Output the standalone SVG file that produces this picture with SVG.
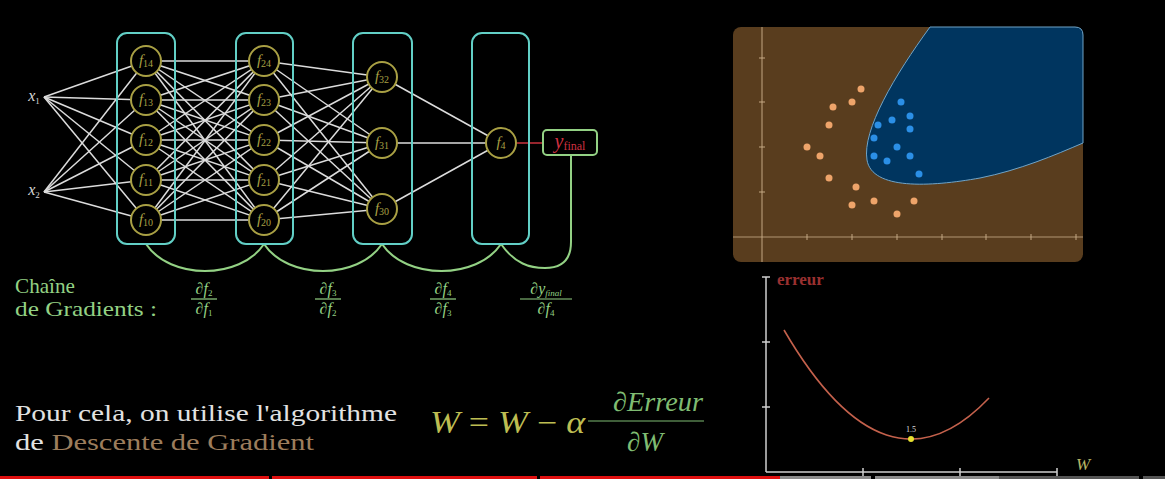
<svg xmlns="http://www.w3.org/2000/svg" width="1165" height="479" viewBox="0 0 1165 479">
<style>
.box{fill:none;stroke:#62cfc6;stroke-width:2}
.ln{stroke:#dcdcdc;stroke-width:1.5}
.node{fill:#000;stroke:#a9a044;stroke-width:2}
.nl{font-family:"Liberation Serif",serif;font-size:15px;fill:#a9a044}
.sub{font-size:10px}
.gr{fill:none;stroke:#93d184;stroke-width:2}
.gt{font-family:"Liberation Serif",serif;fill:#93d184}
.math{font-family:"Liberation Serif",serif;font-style:italic}
.or{fill:#eea46a}
.bl{fill:#2b8fe6}
.ax{stroke:#c9ad88;stroke-width:1.2;opacity:0.8}
.ax2{stroke:#cfcfcf;stroke-width:1.5}
</style>
<rect width="1165" height="479" fill="#000"/>

<g id="connectors">
<g class="ln">
<line x1="44" y1="97" x2="146" y2="61"/><line x1="44" y1="97" x2="146" y2="100"/><line x1="44" y1="97" x2="146" y2="140"/><line x1="44" y1="97" x2="146" y2="180"/><line x1="44" y1="97" x2="146" y2="220"/>
<line x1="44" y1="192" x2="146" y2="61"/><line x1="44" y1="192" x2="146" y2="100"/><line x1="44" y1="192" x2="146" y2="140"/><line x1="44" y1="192" x2="146" y2="180"/><line x1="44" y1="192" x2="146" y2="220"/>
<line x1="146" y1="61" x2="264" y2="61"/><line x1="146" y1="61" x2="264" y2="100"/><line x1="146" y1="61" x2="264" y2="140"/><line x1="146" y1="61" x2="264" y2="180"/><line x1="146" y1="61" x2="264" y2="220"/>
<line x1="146" y1="100" x2="264" y2="61"/><line x1="146" y1="100" x2="264" y2="100"/><line x1="146" y1="100" x2="264" y2="140"/><line x1="146" y1="100" x2="264" y2="180"/><line x1="146" y1="100" x2="264" y2="220"/>
<line x1="146" y1="140" x2="264" y2="61"/><line x1="146" y1="140" x2="264" y2="100"/><line x1="146" y1="140" x2="264" y2="140"/><line x1="146" y1="140" x2="264" y2="180"/><line x1="146" y1="140" x2="264" y2="220"/>
<line x1="146" y1="180" x2="264" y2="61"/><line x1="146" y1="180" x2="264" y2="100"/><line x1="146" y1="180" x2="264" y2="140"/><line x1="146" y1="180" x2="264" y2="180"/><line x1="146" y1="180" x2="264" y2="220"/>
<line x1="146" y1="220" x2="264" y2="61"/><line x1="146" y1="220" x2="264" y2="100"/><line x1="146" y1="220" x2="264" y2="140"/><line x1="146" y1="220" x2="264" y2="180"/><line x1="146" y1="220" x2="264" y2="220"/>
<line x1="264" y1="61" x2="382" y2="77"/><line x1="264" y1="61" x2="382" y2="143"/><line x1="264" y1="61" x2="382" y2="209"/>
<line x1="264" y1="100" x2="382" y2="77"/><line x1="264" y1="100" x2="382" y2="143"/><line x1="264" y1="100" x2="382" y2="209"/>
<line x1="264" y1="140" x2="382" y2="77"/><line x1="264" y1="140" x2="382" y2="143"/><line x1="264" y1="140" x2="382" y2="209"/>
<line x1="264" y1="180" x2="382" y2="77"/><line x1="264" y1="180" x2="382" y2="143"/><line x1="264" y1="180" x2="382" y2="209"/>
<line x1="264" y1="220" x2="382" y2="77"/><line x1="264" y1="220" x2="382" y2="143"/><line x1="264" y1="220" x2="382" y2="209"/>
<line x1="382" y1="77" x2="501" y2="143"/><line x1="382" y1="143" x2="501" y2="143"/><line x1="382" y1="209" x2="501" y2="143"/>
</g>
<line x1="517" y1="143" x2="543" y2="143" stroke="#c8323c" stroke-width="1.5"/>
<path class="gr" d="M146,244 C170,280 240,280 264,244"/>
<path class="gr" d="M264,244 C288,280 358,280 382,244"/>
<path class="gr" d="M382,244 C406,280 477,280 501,244"/>
<path class="gr" d="M501,244 C515,264 530,268 545,268 C563,268 571,258 571,242 L571,155"/>
</g>

<g id="layer1">
<rect class="box" x="117" y="33" width="58" height="211" rx="10"/>
</g>
<g id="layer2">
<rect class="box" x="236" y="33" width="57" height="211" rx="10"/>
</g>
<g id="layer3">
<rect class="box" x="353" y="33" width="59" height="211" rx="10"/>
</g>
<g id="layer4">
<rect class="box" x="472" y="33" width="57" height="211" rx="10"/>
</g>

<g id="x1"><text x="34" y="101" text-anchor="middle" class="math" font-size="16" fill="#d8d8d8">x<tspan font-style="normal" font-size="9" dy="3">1</tspan></text></g>
<g id="x2"><text x="34" y="195" text-anchor="middle" class="math" font-size="16" fill="#d8d8d8">x<tspan font-style="normal" font-size="9" dy="3">2</tspan></text></g>

<g id="f14"><circle class="node" cx="146" cy="61" r="15"/><text class="nl" x="146" y="65" text-anchor="middle"><tspan font-style="italic">f</tspan><tspan class="sub" dy="2">14</tspan></text></g>
<g id="f13"><circle class="node" cx="146" cy="100" r="15"/><text class="nl" x="146" y="104" text-anchor="middle"><tspan font-style="italic">f</tspan><tspan class="sub" dy="2">13</tspan></text></g>
<g id="f12"><circle class="node" cx="146" cy="140" r="15"/><text class="nl" x="146" y="144" text-anchor="middle"><tspan font-style="italic">f</tspan><tspan class="sub" dy="2">12</tspan></text></g>
<g id="f11"><circle class="node" cx="146" cy="180" r="15"/><text class="nl" x="146" y="184" text-anchor="middle"><tspan font-style="italic">f</tspan><tspan class="sub" dy="2">11</tspan></text></g>
<g id="f10"><circle class="node" cx="146" cy="220" r="15"/><text class="nl" x="146" y="224" text-anchor="middle"><tspan font-style="italic">f</tspan><tspan class="sub" dy="2">10</tspan></text></g>

<g id="f24"><circle class="node" cx="264" cy="61" r="15"/><text class="nl" x="264" y="65" text-anchor="middle"><tspan font-style="italic">f</tspan><tspan class="sub" dy="2">24</tspan></text></g>
<g id="f23"><circle class="node" cx="264" cy="100" r="15"/><text class="nl" x="264" y="104" text-anchor="middle"><tspan font-style="italic">f</tspan><tspan class="sub" dy="2">23</tspan></text></g>
<g id="f22"><circle class="node" cx="264" cy="140" r="15"/><text class="nl" x="264" y="144" text-anchor="middle"><tspan font-style="italic">f</tspan><tspan class="sub" dy="2">22</tspan></text></g>
<g id="f21"><circle class="node" cx="264" cy="180" r="15"/><text class="nl" x="264" y="184" text-anchor="middle"><tspan font-style="italic">f</tspan><tspan class="sub" dy="2">21</tspan></text></g>
<g id="f20"><circle class="node" cx="264" cy="220" r="15"/><text class="nl" x="264" y="224" text-anchor="middle"><tspan font-style="italic">f</tspan><tspan class="sub" dy="2">20</tspan></text></g>

<g id="f32"><circle class="node" cx="382" cy="77" r="15"/><text class="nl" x="382" y="81" text-anchor="middle"><tspan font-style="italic">f</tspan><tspan class="sub" dy="2">32</tspan></text></g>
<g id="f31"><circle class="node" cx="382" cy="143" r="15"/><text class="nl" x="382" y="147" text-anchor="middle"><tspan font-style="italic">f</tspan><tspan class="sub" dy="2">31</tspan></text></g>
<g id="f30"><circle class="node" cx="382" cy="209" r="15"/><text class="nl" x="382" y="213" text-anchor="middle"><tspan font-style="italic">f</tspan><tspan class="sub" dy="2">30</tspan></text></g>

<g id="f4"><circle class="node" cx="501" cy="143" r="15"/><text class="nl" x="501" y="147" text-anchor="middle"><tspan font-style="italic">f</tspan><tspan class="sub" dy="2">4</tspan></text></g>

<g id="yfinal">
<rect x="543" y="130" width="54" height="25" rx="4" fill="#000" stroke="#93d184" stroke-width="2"/>
<text x="570" y="148" text-anchor="middle" class="math" font-size="20" fill="#cf3040">y<tspan font-style="normal" font-size="12" dy="2">final</tspan></text>
</g>

<g id="chain-label">
<text class="gt" x="15" y="293" font-size="21" textLength="60" lengthAdjust="spacingAndGlyphs">Chaîne</text>
<text class="gt" x="15" y="316" font-size="21" textLength="142" lengthAdjust="spacingAndGlyphs">de Gradients :</text>
</g>

<g id="fractions" class="gt" font-size="16">
<text x="204" y="294" text-anchor="middle"><tspan>∂</tspan><tspan font-style="italic">f</tspan><tspan font-size="9" dy="2">2</tspan></text>
<line x1="191" y1="299" x2="217" y2="299" stroke="#93d184" stroke-width="1.2"/>
<text x="204" y="314" text-anchor="middle"><tspan>∂</tspan><tspan font-style="italic">f</tspan><tspan font-size="9" dy="2">1</tspan></text>

<text x="328" y="294" text-anchor="middle"><tspan>∂</tspan><tspan font-style="italic">f</tspan><tspan font-size="9" dy="2">3</tspan></text>
<line x1="315" y1="299" x2="341" y2="299" stroke="#93d184" stroke-width="1.2"/>
<text x="328" y="314" text-anchor="middle"><tspan>∂</tspan><tspan font-style="italic">f</tspan><tspan font-size="9" dy="2">2</tspan></text>

<text x="443" y="294" text-anchor="middle"><tspan>∂</tspan><tspan font-style="italic">f</tspan><tspan font-size="9" dy="2">4</tspan></text>
<line x1="430" y1="299" x2="456" y2="299" stroke="#93d184" stroke-width="1.2"/>
<text x="443" y="314" text-anchor="middle"><tspan>∂</tspan><tspan font-style="italic">f</tspan><tspan font-size="9" dy="2">3</tspan></text>

<text x="546" y="294" text-anchor="middle"><tspan>∂</tspan><tspan font-style="italic">y</tspan><tspan font-style="italic" font-size="9" dy="2">final</tspan></text>
<line x1="520" y1="299" x2="572" y2="299" stroke="#93d184" stroke-width="1.2"/>
<text x="546" y="314" text-anchor="middle"><tspan>∂</tspan><tspan font-style="italic">f</tspan><tspan font-size="9" dy="2">4</tspan></text>
</g>

<g id="sentence" font-family="Liberation Serif, serif" font-size="24">
<text x="15" y="421" fill="#e2e2e2" textLength="382" lengthAdjust="spacingAndGlyphs">Pour cela, on utilise l'algorithme</text>
<text x="15" y="450" fill="#e2e2e2" textLength="299" lengthAdjust="spacingAndGlyphs">de <tspan fill="#9c7d5c">Descente de Gradient</tspan></text>
</g>

<g id="formula" font-family="Liberation Serif, serif">
<text x="430" y="433" font-size="31" fill="#bdbd52" textLength="155" lengthAdjust="spacingAndGlyphs"><tspan font-style="italic">W</tspan> = <tspan font-style="italic">W</tspan> − <tspan font-style="italic">α</tspan></text>
<text x="658" y="411" text-anchor="middle" font-size="27" fill="#7fbc72" textLength="90" lengthAdjust="spacingAndGlyphs">∂<tspan font-style="italic">Erreur</tspan></text>
<line x1="588" y1="421" x2="704" y2="421" stroke="#7fbc72" stroke-width="1.2"/>
<text x="645" y="451" text-anchor="middle" font-size="27" fill="#7fbc72">∂<tspan font-style="italic">W</tspan></text>
</g>

<g id="scatter-plot">
<rect x="733" y="27" width="350" height="235" rx="8" fill="#593d1e"/>
<path d="M930,27 C895,75 862,130 867,160 C872,190 930,187 980,178 C1020,170 1055,155 1083,143 L1083,35 Q1083,27 1075,27 Z" fill="#00355f" stroke="#6fa4c8" stroke-width="1"/>
<line class="ax" x1="762" y1="27" x2="762" y2="262"/>
<line class="ax" x1="733" y1="237" x2="1083" y2="237"/>
<g class="ax">
<line x1="759" y1="58" x2="765" y2="58"/><line x1="759" y1="102" x2="765" y2="102"/><line x1="759" y1="147" x2="765" y2="147"/><line x1="759" y1="192" x2="765" y2="192"/>
<line x1="807" y1="234" x2="807" y2="240"/><line x1="852" y1="234" x2="852" y2="240"/><line x1="897" y1="234" x2="897" y2="240"/><line x1="942" y1="234" x2="942" y2="240"/><line x1="986" y1="234" x2="986" y2="240"/><line x1="1031" y1="234" x2="1031" y2="240"/><line x1="1076" y1="234" x2="1076" y2="240"/>
</g>
<g class="or">
<circle cx="861" cy="89" r="3.5"/><circle cx="852" cy="102" r="3.5"/><circle cx="833" cy="107" r="3.5"/><circle cx="829" cy="125" r="3.5"/><circle cx="807" cy="147" r="3.5"/><circle cx="820" cy="156" r="3.5"/><circle cx="829" cy="178" r="3.5"/><circle cx="856" cy="187" r="3.5"/><circle cx="852" cy="205" r="3.5"/><circle cx="874" cy="201" r="3.5"/><circle cx="914" cy="201" r="3.5"/><circle cx="897" cy="214" r="3.5"/>
</g>
<g class="bl">
<circle cx="901" cy="102" r="3.5"/><circle cx="910" cy="116" r="3.5"/><circle cx="892" cy="120" r="3.5"/><circle cx="878" cy="125" r="3.5"/><circle cx="910" cy="129" r="3.5"/><circle cx="874" cy="138" r="3.5"/><circle cx="897" cy="147" r="3.5"/><circle cx="874" cy="156" r="3.5"/><circle cx="910" cy="156" r="3.5"/><circle cx="887" cy="161" r="3.5"/><circle cx="919" cy="174" r="3.5"/>
</g>
</g>

<g id="error-plot">
<line class="ax2" x1="766" y1="277" x2="766" y2="472"/>
<line class="ax2" x1="766" y1="472" x2="1057" y2="472"/>
<line class="ax2" x1="762" y1="277" x2="770" y2="277"/>
<line class="ax2" x1="762" y1="342" x2="770" y2="342"/>
<line class="ax2" x1="762" y1="407" x2="770" y2="407"/>
<line class="ax2" x1="863" y1="468" x2="863" y2="476"/>
<line class="ax2" x1="960" y1="468" x2="960" y2="476"/>
<line class="ax2" x1="1057" y1="468" x2="1057" y2="476"/>
<text x="777" y="285" font-family="Liberation Serif, serif" font-size="17" font-weight="bold" fill="#9a3030">erreur</text>
<text x="1076" y="470" font-family="Liberation Serif, serif" font-style="italic" font-size="17" fill="#b9b566">W</text>
<path d="M784,330 Q886.5,506 989,398" fill="none" stroke="#c4614c" stroke-width="1.6"/>
<circle cx="911" cy="439" r="3" fill="#e8e030"/>
<text x="911" y="432" text-anchor="middle" font-family="Liberation Serif, serif" font-size="8" fill="#dddddd">1.5</text>
</g>

<g id="progress-bar">
<rect x="0" y="476" width="269" height="3" fill="#e01010"/>
<rect x="272" y="476" width="265" height="3" fill="#e01010"/>
<rect x="540" y="476" width="240" height="3" fill="#e01010"/>
<rect x="780" y="476" width="91" height="3" fill="#8a8a8a"/>
<rect x="875" y="476" width="124" height="3" fill="#8a8a8a"/>
<rect x="999" y="476" width="140" height="3" fill="#555"/>
<rect x="1143" y="476" width="22" height="3" fill="#555"/>
</g>
</svg>
